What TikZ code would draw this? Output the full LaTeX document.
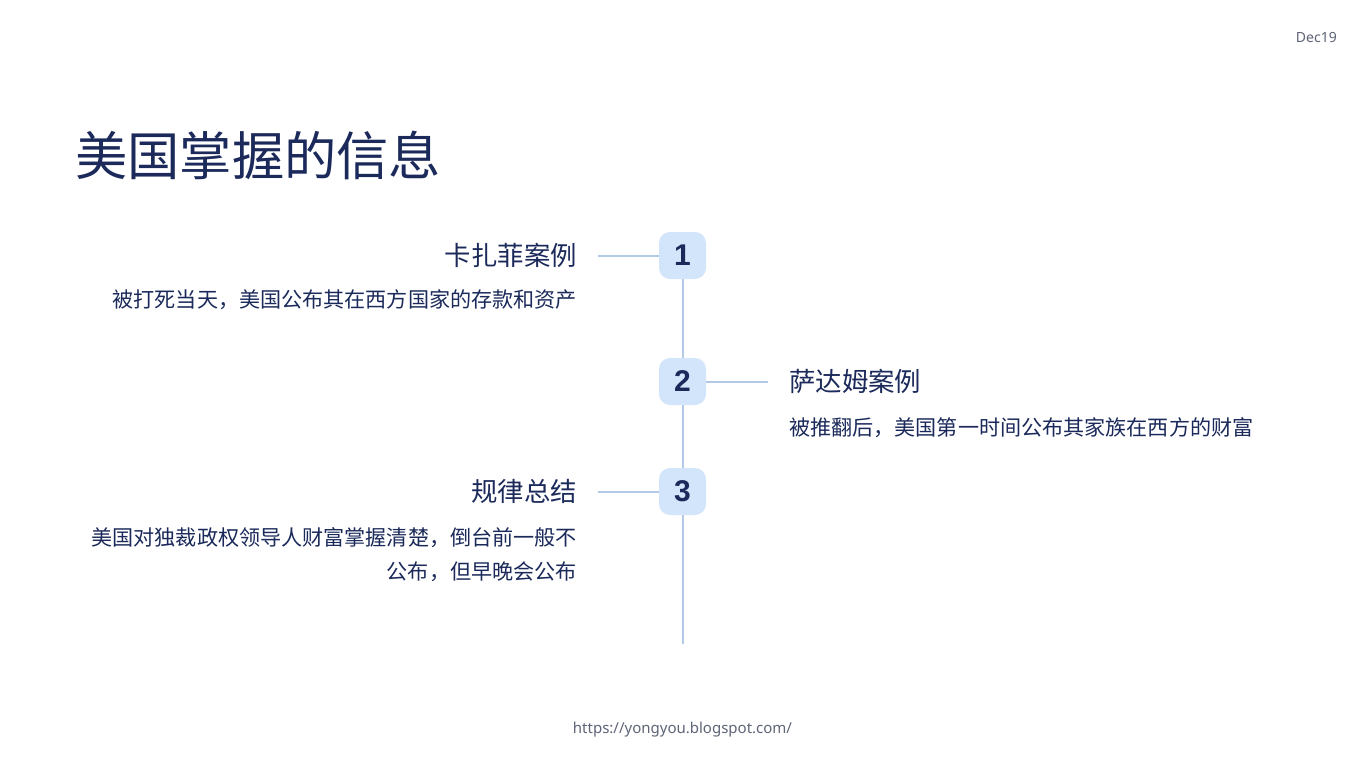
\documentclass[tikz,border=0pt]{standalone}
\usepackage{fontspec}
\setmainfont{Noto Sans CJK SC}
\newfontfamily\numfont{Noto Sans}
\newfontfamily\digitfont{Liberation Sans}
\definecolor{navy}{HTML}{1B2A5A}
\definecolor{boxfill}{HTML}{D3E5FA}
\definecolor{linec}{HTML}{B3C9E8}
\definecolor{greyc}{HTML}{5F6577}
\begin{document}
\begin{tikzpicture}[x=1pt,y=-1pt,
  numbox/.style={fill=boxfill,rounded corners=11pt,minimum width=47pt,minimum height=47pt,inner sep=0pt,text=navy,font=\digitfont\bfseries\fontsize{30}{32}\selectfont},
  conn/.style={draw=linec,line width=2pt},
  head/.style={inner sep=0pt,text=navy,font=\fontsize{26.4}{30}\selectfont},
  desc/.style={inner sep=0pt,text=navy,font=\fontsize{21.1}{34}\selectfont},
  small/.style={inner sep=0pt,text=greyc,font=\numfont\fontsize{14}{16}\selectfont}]
\useasboundingbox[fill=white] (0,0) rectangle (1366,768);
\node[small,anchor=east] (date) at (1337,38) {Dec19};
\node[inner sep=0pt,anchor=west,text=navy,font=\fontsize{52.3}{58}\selectfont] (title) at (75,155) {美国掌握的信息};
\node[numbox] (b1) at (682.5,255.5) {1};
\node[numbox] (b2) at (682.5,381.5) {2};
\node[numbox] (b3) at (682.5,491.5) {3};
\coordinate (l1) at (598,255.5);
\coordinate (r2) at (768,381.5);
\coordinate (l3) at (598,491.5);
\coordinate (bot) at (682.5,644);
\draw[conn] (l1) -- (b1.west);
\draw[conn] (b2.east) -- (r2);
\draw[conn] (l3) -- (b3.west);
\draw[conn] (b1.south) -- (b2.north);
\draw[conn] (b2.south) -- (b3.north);
\draw[conn] (b3.south) -- (bot);
\node[head,anchor=east] (h1) at (577,255) {卡扎菲案例};
\node[desc,anchor=east] (d1) at (577,300) {被打死当天，美国公布其在西方国家的存款和资产};
\node[head,anchor=west] (h2) at (789,381) {萨达姆案例};
\node[desc,anchor=west] (d2) at (789,428) {被推翻后，美国第一时间公布其家族在西方的财富};
\node[head,anchor=east] (h3) at (577,491) {规律总结};
\node[desc,anchor=north east,align=right] (d3) at (577,527) {美国对独裁政权领导人财富掌握清楚，倒台前一般不\\公布，但早晚会公布};
\node[small,font=\numfont\fontsize{15}{18}\selectfont] (url) at (682.5,730) {https://yongyou.blogspot.com/};
\end{tikzpicture}
\end{document}
